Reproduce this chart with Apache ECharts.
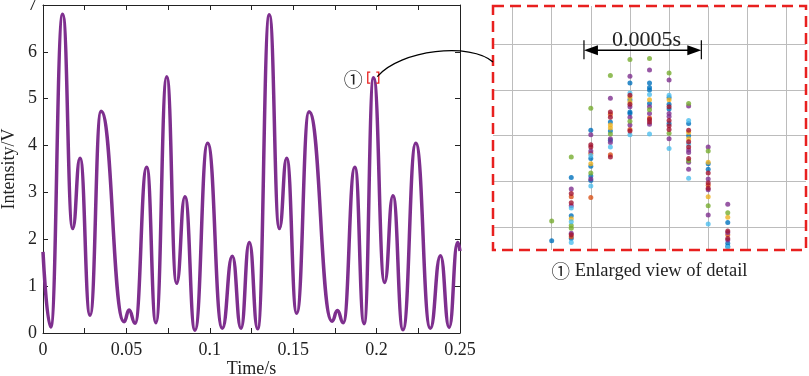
<!DOCTYPE html>
<html>
<head>
<meta charset="utf-8">
<script src="https://cdn.jsdelivr.net/npm/echarts@6/dist/echarts.min.js"></script>
<style>
  html, body { margin: 0; padding: 0; background: #fff; }
  #chart { width: 809px; height: 376px; }
</style>
</head>
<body>
<div id="chart"></div>
<script>
// main trace: turning points (time in s, intensity in V)
const timeS = [
  0, 0.0046, 0.0118, 0.0178, 0.0222, 0.0282, 0.0348, 0.0486, 0.0516, 0.0552,
  0.0622, 0.0677, 0.0742, 0.0801, 0.0851, 0.0911, 0.0987, 0.1075, 0.1135, 0.1187,
  0.1237, 0.1287, 0.1357, 0.1417, 0.1461, 0.1521, 0.1595, 0.1733, 0.1765, 0.1800,
  0.1870, 0.1925, 0.1982, 0.2048, 0.2098, 0.2158, 0.2235, 0.2322, 0.2383, 0.2435,
  0.2486, 0.25
];
const intensityV = [
  1.73, 0.13, 6.8, 2.23, 3.73, 0.38, 4.73, 0.24, 0.49, 0.21,
  3.54, 0.22, 5.47, 1.06, 2.91, 0.06, 4.05, 0.1, 1.64, 0.1,
  1.93, 0.09, 6.79, 2.23, 3.73, 0.42, 4.72, 0.25, 0.48, 0.22,
  3.54, 0.2, 5.45, 1.08, 2.93, 0.07, 4.05, 0.1, 1.65, 0.12,
  1.93, 1.75
];

// the peak that is blown up on the right
const detailSpot = [0.198, 5.45];

// detail view: [sample column, level] in half-grid / sixth-grid units, one array per trace colour
const detailBlue = [[3,1.2],[4,9.5],[4,4.5],[4,1.5],[5,15.7],[5,12.0],[5,11.0],[5,9.7],[5,9.1],[6,16.8],[6,15.6],[6,14.4],
  [7,21.9],[7,19.7],[7,18.1],[7,17.9],[8,21.9],[8,21.3],[8,21.0],[8,19.2],[9,20.0],[9,19.1],[9,18.5],[9,16.6],
  [10,16.6],[10,15.0],[11,11.3],[11,10.6],[12,3.6],[12,0.9],[12,0.5]];
const detailOrange = [[4,7.0],[4,1.75],[5,12.7],[5,6.9],[6,17.8],[6,12.5],[7,15.8],[8,17.3],[11,8.5],[12,2.0]];
const detailYellow = [[4,4.1],[5,11.3],[6,16.4],[6,16.0],[7,20.0],[7,19.4],[8,19.7],[9,19.7],[10,15.4],[10,14.6],
  [11,11.5],[11,7.0],[12,4.3]];
const detailPurple = [[4,8.0],[4,5.8],[4,2.2],[5,15.1],[5,13.0],[5,9.3],[6,19.9],[6,14.6],[6,14.1],[7,22.8],[7,18.8],
  [7,17.4],[7,16.4],[8,23.6],[8,18.8],[8,17.9],[8,16.5],[9,22.3],[9,17.9],[9,17.5],[9,14.6],[10,18.9],[10,13.1],
  [10,12.8],[10,11.5],[10,10.6],[11,13.5],[11,9.3],[11,7.9],[11,4.6],[12,6.0],[12,2.3],[12,1.3]];
const detailGreen = [[3,3.8],[4,12.2],[4,3.2],[4,2.85],[5,18.6],[5,10.1],[6,22.9],[6,15.2],[7,25.0],[7,16.9],[8,25.1],
  [8,18.4],[9,23.2],[9,15.3],[10,19.2],[10,11.7],[11,13.0],[11,5.8],[12,4.9]];
const detailCyan = [[4,5.5],[4,3.7],[4,1.0],[5,12.4],[5,8.4],[6,13.5],[7,20.6],[7,15.1],[8,20.4],[8,15.2],[9,20.3],
  [9,13.3],[10,17.0],[10,13.9],[10,9.4],[11,3.4],[12,0.35]];
const detailRed = [[4,7.4],[4,6.2],[4,2.0],[5,13.8],[5,13.5],[6,18.1],[6,17.4],[6,12.2],[7,20.3],[7,19.1],[7,15.6],
  [8,17.1],[8,16.8],[9,18.8],[9,17.0],[9,16.3],[9,15.8],[10,15.7],[10,14.2],[10,13.5],[10,12.0],[11,10.1],[11,8.8],
  [11,8.1],[12,2.5],[12,1.5]];

const detailSets = [detailBlue, detailOrange, detailYellow, detailPurple, detailGreen, detailCyan, detailRed];
const detailColors = ['#0072BD', '#D95319', '#EDB120', '#7E2F8E', '#77AC30', '#4DBEEE', '#A2142F'];
const spanLabel = '0.0005s';
const spanStart = 4.65, spanEnd = 10.65, spanLevel = 26.2;

const serif = "'Liberation Serif', 'Times New Roman', serif";
const ink = '#222';
const none = 'rgba(0,0,0,0)';

const chart = echarts.init(document.getElementById('chart'));

const frameAxis = (extra) => Object.assign({
  gridIndex: 0,
  type: 'value',
  nameMoveOverlap: false,
  axisLine: { onZero: false, lineStyle: { color: ink, width: 1 } },
  axisTick: { inside: true, length: 5, lineStyle: { color: ink } },
  splitLine: { show: false },
  axisLabel: { fontSize: 18, color: ink, fontFamily: serif },
  nameTextStyle: { fontSize: 18, color: ink, fontFamily: serif },
}, extra);

const option = {
  animation: false,
  backgroundColor: '#fff',
  textStyle: { fontFamily: serif },
  grid: [
    { left: 43, right: 349, top: 5, bottom: 43, outerBoundsMode: 'none', containLabel: false },
    { left: 493, right: 3, top: 6, bottom: 126, outerBoundsMode: 'none', containLabel: false },
  ],
  xAxis: [
    frameAxis({
      position: 'bottom', min: 0, max: 0.25, interval: 0.05,
      name: 'Time/s', nameLocation: 'middle', nameGap: 27,
      minorTick: { show: true, splitNumber: 2, length: 5, lineStyle: { color: ink } },
      axisLabel: { fontSize: 18, color: ink, fontFamily: serif, margin: 8 },
    }),
    frameAxis({
      position: 'top', min: 0, max: 0.25, interval: 0.05,
      minorTick: { show: true, splitNumber: 2, length: 5, lineStyle: { color: ink } },
      axisLabel: { show: false },
    }),
    {
      gridIndex: 1, type: 'value', min: 0, max: 16, interval: 1,
      axisLine: { show: false }, axisTick: { show: false }, axisLabel: { show: false },
      splitLine: { show: true, lineStyle: { color: [none, '#bcbcbc'], width: 1 } },
    },
  ],
  yAxis: [
    frameAxis({
      position: 'left', min: 0, max: 7, interval: 1,
      name: 'Intensity/V', nameLocation: 'middle', nameGap: 25,
      axisLabel: { fontSize: 18, color: ink, fontFamily: serif, margin: 6 },
    }),
    frameAxis({
      position: 'right', min: 0, max: 7, interval: 1,
      axisLabel: { show: false },
    }),
    {
      gridIndex: 1, type: 'value', min: 0, max: 32, interval: 1,
      axisLine: { show: false }, axisTick: { show: false }, axisLabel: { show: false },
      splitLine: { show: true, lineStyle: { color: [none, none, none, '#bcbcbc', none, none], width: 1 } },
    },
  ],
  series: [
    {
      type: 'line',
      xAxisIndex: 0, yAxisIndex: 0,
      data: timeS.map((t, i) => [t, intensityV[i]]),
      smooth: 0.5,
      smoothMonotone: 'x',
      symbol: 'none',
      lineStyle: { color: '#7E2F8E', width: 3.5 },
      z: 3,
    },
    ...detailSets.map((pts, i) => ({
      type: 'scatter',
      xAxisIndex: 2, yAxisIndex: 2,
      data: pts,
      symbolSize: 5,
      itemStyle: { color: detailColors[i] },
      clip: false,
    })),
  ],
};

chart.setOption(option);

// annotations laid out from the axes' own scales
const lo = chart.convertToPixel({ seriesIndex: 1 }, [0, 0]);
const hi = chart.convertToPixel({ seriesIndex: 1 }, [16, 32]);
const spot = chart.convertToPixel({ seriesIndex: 0 }, detailSpot);
const aL = chart.convertToPixel({ seriesIndex: 1 }, [spanStart, spanLevel]);
const aR = chart.convertToPixel({ seriesIndex: 1 }, [spanEnd, spanLevel]);
const red = '#E8201F';
const sx = spot[0], sy = spot[1], h = 5.5;
const ay = aL[1];

chart.setOption({
  graphic: [
    {
      type: 'rect', z: 100, silent: true,
      shape: { x: lo[0], y: hi[1], width: hi[0] - lo[0], height: lo[1] - hi[1] },
      style: { fill: null, stroke: red, lineWidth: 2.5, lineDash: [11, 6] },
    },
    {
      type: 'polyline', z: 100, silent: true,
      shape: { points: [[sx - h + 2.5, sy - h], [sx - h, sy - h], [sx - h, sy + h], [sx - h + 2.5, sy + h]] },
      style: { stroke: red, lineWidth: 1.3, fill: null },
    },
    {
      type: 'polyline', z: 100, silent: true,
      shape: { points: [[sx + h - 2.5, sy - h], [sx + h, sy - h], [sx + h, sy + h], [sx + h - 2.5, sy + h]] },
      style: { stroke: red, lineWidth: 1.3, fill: null },
    },
    {
      type: 'text', z: 100, silent: true, x: sx - 20, y: sy + 2,
      style: { text: '①', fontSize: 19, fontFamily: "'Noto Sans CJK SC', 'DejaVu Sans'", fill: ink, align: 'center', verticalAlign: 'middle' },
    },
    {
      type: 'bezierCurve', z: 100, silent: true,
      shape: { x1: sx + 4, y1: sy - 1, cpx1: sx + 27, cpy1: sy - 28, cpx2: lo[0] - 22, cpy2: hi[1] + 36, x2: lo[0], y2: hi[1] + 56 },
      style: { stroke: '#000', lineWidth: 1.3, fill: null },
    },
    {
      type: 'line', z: 100, silent: true,
      shape: { x1: aL[0] + 10, y1: ay, x2: aR[0] - 10, y2: ay },
      style: { stroke: '#000', lineWidth: 1.4 },
    },
    {
      type: 'polygon', z: 100, silent: true,
      shape: { points: [[aL[0], ay], [aL[0] + 14, ay - 5], [aL[0] + 14, ay + 5]] },
      style: { fill: '#000' },
    },
    {
      type: 'polygon', z: 100, silent: true,
      shape: { points: [[aR[0], ay], [aR[0] - 14, ay - 5], [aR[0] - 14, ay + 5]] },
      style: { fill: '#000' },
    },
    {
      type: 'line', z: 100, silent: true,
      shape: { x1: aL[0], y1: ay - 10, x2: aL[0], y2: ay + 9 },
      style: { stroke: '#000', lineWidth: 1.2 },
    },
    {
      type: 'line', z: 100, silent: true,
      shape: { x1: aR[0], y1: ay - 10, x2: aR[0], y2: ay + 9 },
      style: { stroke: '#000', lineWidth: 1.2 },
    },
    {
      type: 'text', z: 100, silent: true, x: (aL[0] + aR[0]) / 2 + 4, y: ay - 10,
      style: { text: spanLabel, fontSize: 22, fontFamily: serif, fill: ink, align: 'center', verticalAlign: 'middle' },
    },
    {
      type: 'text', z: 100, silent: true, x: (lo[0] + hi[0]) / 2, y: lo[1] + 21,
      style: {
        text: '{c|①} Enlarged view of detail',
        fontSize: 18.5, fontFamily: serif, fill: ink, align: 'center', verticalAlign: 'middle',
        rich: { c: { fontSize: 18.5, fontFamily: "'Noto Sans CJK SC', 'DejaVu Sans'", fill: ink } },
      },
    },
  ],
});
</script>
</body>
</html>
